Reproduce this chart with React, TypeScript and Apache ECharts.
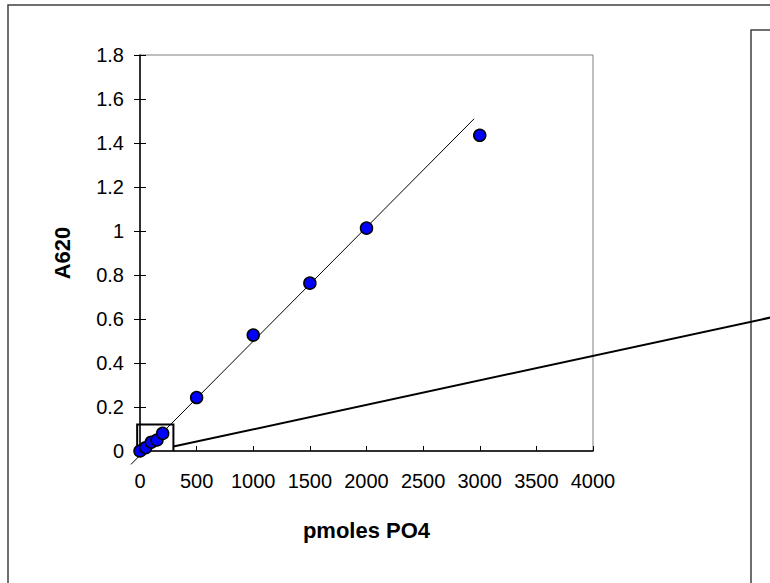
import React, { useEffect, useRef } from "react";
import * as echarts from "echarts";

// Standard curve data: pmoles PO4 vs A620
const pmoles = [0, 50, 100, 150, 200, 500, 1000, 1500, 2000, 3000];
const a620 = [0, 0.015, 0.04, 0.05, 0.08, 0.243, 0.527, 0.763, 1.013, 1.435];

// Linear trend line endpoints (forecast backward / forward)
const trendX = [-80, 2950];
const trendY = [-0.061, 1.51];

// Zoom box around low-concentration points and connector to inset
const zoomBoxX = [-25, -25, 295, 295];
const zoomBoxY = [0, 0.12, 0.12, 0];
const connectorX = [295, 5570];
const connectorY = [0.02, 0.607];

const xMin = 0, xMax = 4000, xStep = 500;
const yMin = 0, yMax = 1.8, yStep = 0.2;

const FONT = "'Liberation Sans', Arial, sans-serif";

export default function App() {
  const ref = useRef<HTMLDivElement>(null);
  useEffect(() => {
    if (!ref.current) return;
    const chart = echarts.init(ref.current, undefined, { renderer: "svg" });
    const zip = (xs: number[], ys: number[]) => xs.map((x, i) => [x, ys[i]]);
    chart.setOption({
      animation: false,
      backgroundColor: "#ffffff",
      textStyle: { fontFamily: FONT },
      grid: {
        left: 140,
        top: 55,
        right: 177,
        bottom: 132,
        show: true,
        borderColor: "#808080",
        borderWidth: 1,
        outerBoundsMode: "none",
      },
      xAxis: {
        type: "value",
        min: xMin,
        max: xMax,
        interval: xStep,
        name: "pmoles PO4",
        nameLocation: "middle",
        nameGap: 68,
        nameTextStyle: { fontFamily: FONT, fontSize: 22, fontWeight: "bold", color: "#000" },
        axisLine: { show: true, onZero: false, lineStyle: { color: "#000", width: 1.5 } },
        axisTick: { show: true, inside: true, length: 5, lineStyle: { color: "#000", width: 1 } },
        axisLabel: {
          fontFamily: FONT,
          fontSize: 20,
          color: "#000",
          margin: 20,
          formatter: (v: number) => String(v),
        },
        splitLine: { show: false },
      },
      yAxis: [
        {
          type: "value",
          min: yMin,
          max: yMax,
          interval: yStep,
          position: "left",
          name: "A620",
          nameLocation: "middle",
          nameGap: 67,
          nameRotate: 90,
          nameTextStyle: { fontFamily: FONT, fontSize: 22, fontWeight: "bold", color: "#000" },
          axisLine: { show: true, onZero: false, lineStyle: { color: "#000", width: 1.5 } },
          axisTick: { show: true, inside: false, length: 6, lineStyle: { color: "#000", width: 1 } },
          axisLabel: { fontFamily: FONT, fontSize: 20, color: "#000", margin: 16 },
          splitLine: { show: false },
        },
        {
          type: "value",
          min: yMin,
          max: yMax,
          interval: yStep,
          position: "left",
          offset: 0,
          axisLine: { show: false },
          axisTick: { show: true, inside: true, length: 6, lineStyle: { color: "#000", width: 1 } },
          axisLabel: { show: false },
          splitLine: { show: false },
        },
      ],
      series: [
        {
          type: "scatter",
          data: zip(pmoles, a620),
          symbol: "circle",
          symbolSize: 12,
          itemStyle: { color: "#0000ff", borderColor: "#000", borderWidth: 1.5, opacity: 1 },
          z: 5,
        },
      ],
    });

    const toPx = (xs: number[], ys: number[]) =>
      xs.map((x, i) => chart.convertToPixel({ gridIndex: 0 }, [x, ys[i]]) as number[]);

    chart.setOption({
      graphic: [
        {
          type: "rect",
          shape: { x: 8, y: 5, width: 900, height: 700 },
          style: { fill: "none", stroke: "#404040", lineWidth: 1.5 },
          silent: true,
          z: 1,
        },
        {
          type: "rect",
          shape: { x: 751, y: 30, width: 200, height: 700 },
          style: { fill: "none", stroke: "#404040", lineWidth: 1.5 },
          silent: true,
          z: 1,
        },
        {
          type: "polyline",
          shape: { points: toPx(trendX, trendY) },
          style: { fill: "none", stroke: "#000", lineWidth: 1 },
          silent: true,
          z: 2,
        },
        {
          type: "polyline",
          shape: { points: toPx(zoomBoxX, zoomBoxY) },
          style: { fill: "none", stroke: "#000", lineWidth: 2 },
          silent: true,
          z: 2,
        },
        {
          type: "polyline",
          shape: { points: toPx(connectorX, connectorY) },
          style: { fill: "none", stroke: "#000", lineWidth: 2 },
          silent: true,
          z: 2,
        },
      ],
    });
    return () => chart.dispose();
  }, []);
  return (
    <div
      ref={ref}
      style={{ position: "absolute", left: 0, top: 0, width: 770, height: 583 }}
    />
  );
}
